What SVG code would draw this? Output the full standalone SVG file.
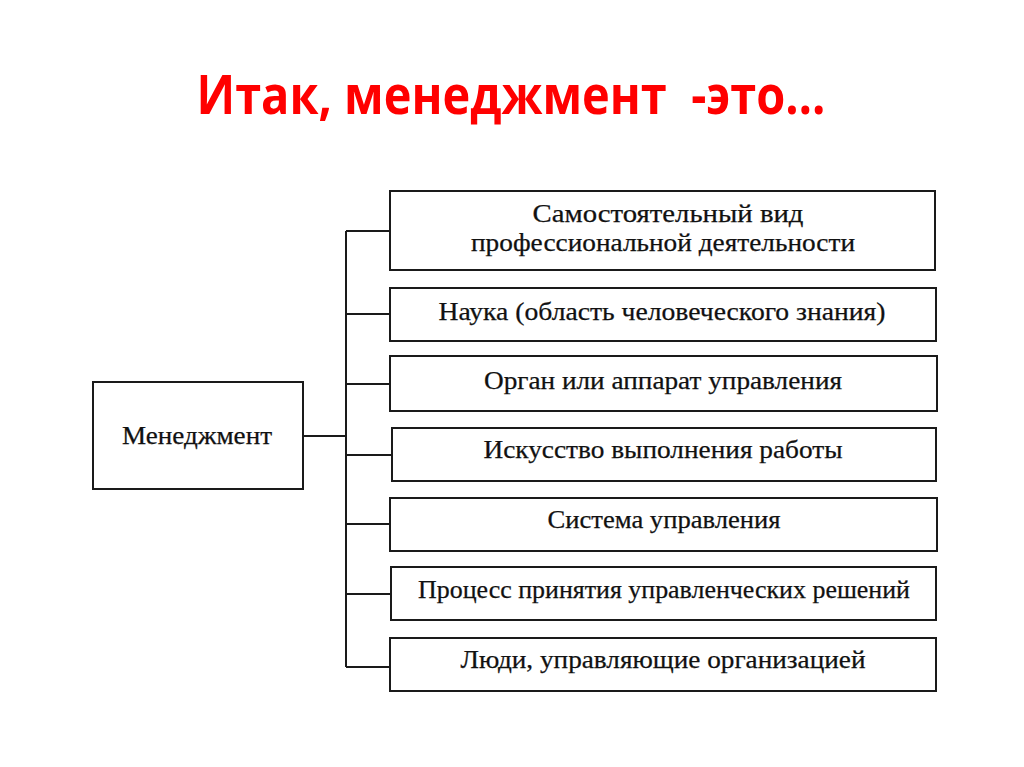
<svg xmlns="http://www.w3.org/2000/svg" width="1024" height="767" viewBox="0 0 1024 767">
<style>
.box{fill:#fff;stroke:#1a1a1a;stroke-width:2}
.lbl{font-family:"Liberation Serif","Times New Roman",serif;font-size:25px;fill:#111;stroke:#111;stroke-width:0.25;text-anchor:middle}
.conn{fill:none;stroke:#1a1a1a;stroke-width:2}
.title{font-family:"Open Sans","Noto Sans",sans-serif;font-weight:bold;font-size:53px;fill:#ff0000;text-anchor:middle;white-space:pre}
</style>
<rect width="1024" height="767" fill="#fff"/>
<text class="title" x="511" y="114" textLength="629" lengthAdjust="spacingAndGlyphs" xml:space="preserve">Итак, менеджмент  -это…</text>
<g id="connectors">
<path class="conn" d="M303,436 H346"/>
<path class="conn" d="M346,231 V667"/>
<path class="conn" d="M346,231 H390 M346,314 H390 M346,384 H390 M346,455 H392 M346,524 H390 M346,594 H391 M346,667 H390"/>
</g>
<g id="node-main">
<rect class="box" x="93" y="382" width="210" height="107"/>
<text class="lbl" x="197" y="444" textLength="150" lengthAdjust="spacingAndGlyphs">Менеджмент</text>
</g>
<g id="node-1">
<rect class="box" x="390" y="191" width="545" height="79"/>
<text class="lbl" x="668" y="222" textLength="271" lengthAdjust="spacingAndGlyphs">Самостоятельный вид</text>
<text class="lbl" x="663" y="251" textLength="384" lengthAdjust="spacingAndGlyphs">профессиональной деятельности</text>
</g>
<g id="node-2">
<rect class="box" x="390" y="288" width="546" height="53"/>
<text class="lbl" x="662" y="320" textLength="447" lengthAdjust="spacingAndGlyphs">Наука (область человеческого знания)</text>
</g>
<g id="node-3">
<rect class="box" x="390" y="356" width="547" height="55"/>
<text class="lbl" x="663" y="389" textLength="358" lengthAdjust="spacingAndGlyphs">Орган или аппарат управления</text>
</g>
<g id="node-4">
<rect class="box" x="392" y="428" width="544" height="53"/>
<text class="lbl" x="663" y="458" textLength="359" lengthAdjust="spacingAndGlyphs">Искусство выполнения работы</text>
</g>
<g id="node-5">
<rect class="box" x="390" y="498" width="547" height="53"/>
<text class="lbl" x="664" y="528" textLength="233" lengthAdjust="spacingAndGlyphs">Система управления</text>
</g>
<g id="node-6">
<rect class="box" x="391" y="567" width="545" height="53"/>
<text class="lbl" x="664" y="598" textLength="492" lengthAdjust="spacingAndGlyphs">Процесс принятия управленческих решений</text>
</g>
<g id="node-7">
<rect class="box" x="390" y="638" width="546" height="53"/>
<text class="lbl" x="663" y="668" textLength="405" lengthAdjust="spacingAndGlyphs">Люди, управляющие организацией</text>
</g>
</svg>
